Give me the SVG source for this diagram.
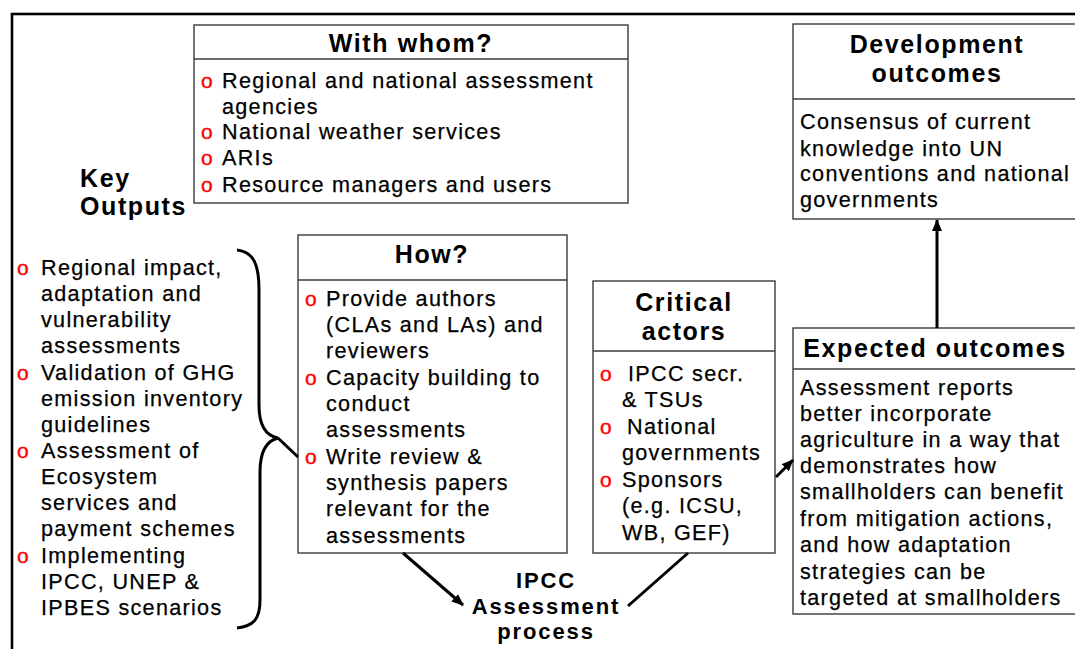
<svg xmlns="http://www.w3.org/2000/svg" width="1075" height="649" viewBox="0 0 1075 649">
<style>
.t{font-family:"Liberation Sans",Arial,sans-serif;font-size:21.6px;letter-spacing:1.3px;fill:#000;stroke:#000;stroke-width:0.25px}
.h{font-family:"Liberation Sans",Arial,sans-serif;font-size:25px;font-weight:bold;letter-spacing:1.6px;fill:#000}
.p{font-family:"Liberation Sans",Arial,sans-serif;font-size:22px;font-weight:bold;letter-spacing:1.9px;fill:#000}
.b{font-family:"Liberation Sans",Arial,sans-serif;font-size:21px;fill:#ff0000;stroke:#ff0000;stroke-width:0.4px}
.box{fill:#fff;stroke:#3a3a3a;stroke-width:1.4}
.sep{stroke:#3a3a3a;stroke-width:1.4}
.c{fill:none;stroke:#000;stroke-width:3}
</style>
<defs>
<marker id="ah" markerUnits="userSpaceOnUse" markerWidth="12" markerHeight="10" refX="11" refY="5" orient="auto">
<path d="M0,0 L12,5 L0,10 z" fill="#000"/>
</marker>
</defs>
<rect x="0" y="0" width="1075" height="649" fill="#fff"/>
<rect x="12" y="14" width="1100" height="700" fill="none" stroke="#000" stroke-width="2.6"/>

<g id="key-outputs-title">
<text class="h" x="80" y="187">Key</text>
<text class="h" x="80" y="215">Outputs</text>
</g>

<g id="key-outputs-list">
<text class="b"><tspan x="17" y="275">o</tspan><tspan x="17" y="380">o</tspan><tspan x="17" y="458">o</tspan><tspan x="17" y="563">o</tspan></text>
<text class="t"><tspan x="41" y="275">Regional impact,</tspan><tspan x="41" y="301">adaptation and</tspan><tspan x="41" y="327">vulnerability</tspan><tspan x="41" y="353">assessments</tspan><tspan x="41" y="380">Validation of GHG</tspan><tspan x="41" y="406">emission inventory</tspan><tspan x="41" y="432">guidelines</tspan><tspan x="41" y="458">Assessment of</tspan><tspan x="41" y="484">Ecosystem</tspan><tspan x="41" y="510">services and</tspan><tspan x="41" y="536">payment schemes</tspan><tspan x="41" y="563">Implementing</tspan><tspan x="41" y="589">IPCC, UNEP &amp;</tspan><tspan x="41" y="615">IPBES scenarios</tspan></text>
</g>

<g id="with-whom">
<rect class="box" x="194" y="25" width="434" height="178"/>
<line class="sep" x1="194" y1="59" x2="628" y2="59"/>
<text class="h" x="411" y="52" text-anchor="middle">With whom?</text>
<text class="b"><tspan x="201" y="88">o</tspan><tspan x="201" y="139">o</tspan><tspan x="201" y="165">o</tspan><tspan x="201" y="192">o</tspan></text>
<text class="t"><tspan x="222" y="88">Regional and national assessment</tspan><tspan x="222" y="114">agencies</tspan><tspan x="222" y="139">National weather services</tspan><tspan x="222" y="165">ARIs</tspan><tspan x="222" y="192">Resource managers and users</tspan></text>
</g>

<g id="how">
<rect class="box" x="298" y="235" width="269" height="318"/>
<line class="sep" x1="298" y1="280" x2="567" y2="280"/>
<text class="h" x="432" y="263" text-anchor="middle">How?</text>
<text class="b"><tspan x="305" y="306">o</tspan><tspan x="305" y="385">o</tspan><tspan x="305" y="464">o</tspan></text>
<text class="t"><tspan x="326" y="306">Provide authors</tspan><tspan x="326" y="332">(CLAs and LAs) and</tspan><tspan x="326" y="358">reviewers</tspan><tspan x="326" y="385">Capacity building to</tspan><tspan x="326" y="411">conduct</tspan><tspan x="326" y="437">assessments</tspan><tspan x="326" y="464">Write review &amp;</tspan><tspan x="326" y="490">synthesis papers</tspan><tspan x="326" y="516">relevant for the</tspan><tspan x="326" y="543">assessments</tspan></text>
</g>

<g id="critical-actors">
<rect class="box" x="593" y="281" width="182" height="272"/>
<line class="sep" x1="593" y1="351" x2="775" y2="351"/>
<text class="h" text-anchor="middle"><tspan x="684" y="311">Critical</tspan><tspan x="684" y="340">actors</tspan></text>
<text class="b"><tspan x="600" y="381">o</tspan><tspan x="600" y="434">o</tspan><tspan x="600" y="487">o</tspan></text>
<text class="t"><tspan x="628" y="381">IPCC secr.</tspan><tspan x="622" y="407">&amp; TSUs</tspan><tspan x="627" y="434">National</tspan><tspan x="622" y="460">governments</tspan><tspan x="622" y="487">Sponsors</tspan><tspan x="622" y="513">(e.g. ICSU,</tspan><tspan x="622" y="540">WB, GEF)</tspan></text>
</g>

<g id="development-outcomes">
<rect class="box" x="793" y="24" width="290" height="195"/>
<line class="sep" x1="793" y1="99" x2="1083" y2="99"/>
<text class="h" text-anchor="middle"><tspan x="937" y="53">Development</tspan><tspan x="937" y="82">outcomes</tspan></text>
<text class="t"><tspan x="800" y="129">Consensus of current</tspan><tspan x="800" y="156">knowledge into UN</tspan><tspan x="800" y="181">conventions and national</tspan><tspan x="800" y="207">governments</tspan></text>
</g>

<g id="expected-outcomes">
<rect class="box" x="793" y="328" width="290" height="286"/>
<line class="sep" x1="793" y1="369" x2="1083" y2="369"/>
<text class="h" x="935" y="357" text-anchor="middle">Expected outcomes</text>
<text class="t"><tspan x="800" y="395">Assessment reports</tspan><tspan x="800" y="421">better incorporate</tspan><tspan x="800" y="447">agriculture in a way that</tspan><tspan x="800" y="473">demonstrates how</tspan><tspan x="800" y="499">smallholders can benefit</tspan><tspan x="800" y="526">from mitigation actions,</tspan><tspan x="800" y="552">and how adaptation</tspan><tspan x="800" y="579">strategies can be</tspan><tspan x="800" y="605">targeted at smallholders</tspan></text>
</g>

<g id="ipcc-process">
<text class="p" text-anchor="middle"><tspan x="546" y="588">IPCC</tspan><tspan x="546" y="614">Assessment</tspan><tspan x="546" y="639">process</tspan></text>
</g>

<g id="connectors">
<path class="c" d="M237,250 C254,252 259,265 259,290 L259,405 C259,428 267,436 278,438 C266,441 260,452 260,472 L260,600 C260,620 253,626 237,628"/>
<line class="c" x1="278" y1="438" x2="298" y2="457"/>
<line class="c" x1="403" y1="553" x2="463" y2="605" marker-end="url(#ah)"/>
<line class="c" x1="688" y1="553" x2="628" y2="606"/>
<line class="c" x1="776" y1="477" x2="793" y2="460" marker-end="url(#ah)"/>
<line class="c" x1="937" y1="328" x2="937" y2="220" marker-end="url(#ah)"/>
</g>
</svg>
